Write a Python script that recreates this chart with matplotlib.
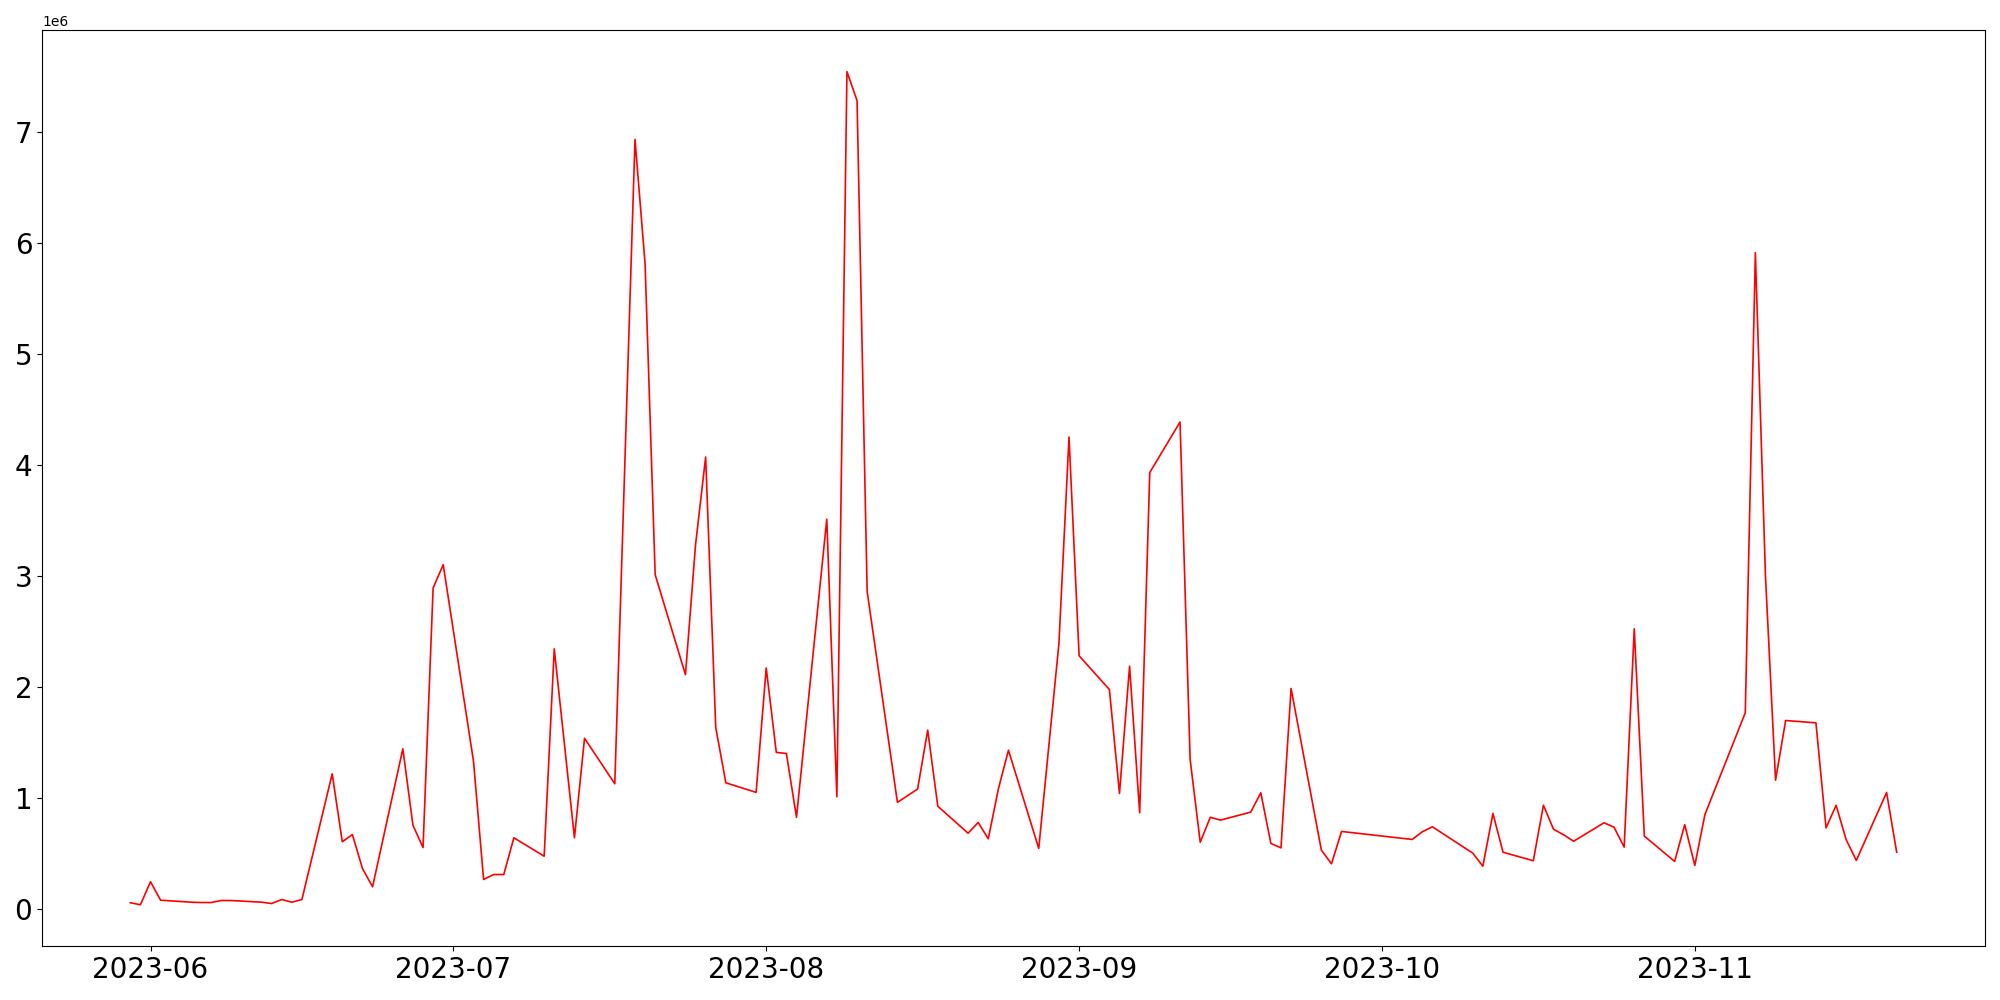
#!/usr/bin/env python3
# daily volume line chart, red line over business days
import numpy as np
import pandas as pd
import matplotlib
matplotlib.use('Agg')
import matplotlib.pyplot as plt

# trading dates (gaps = weekends / missing days)
dates = ['2023-05-30', '2023-05-31', '2023-06-01', '2023-06-02',
         '2023-06-05', '2023-06-06', '2023-06-07', '2023-06-08', '2023-06-09',
         '2023-06-12', '2023-06-13', '2023-06-14', '2023-06-15', '2023-06-16',
         '2023-06-19', '2023-06-20', '2023-06-21', '2023-06-22', '2023-06-23',
         '2023-06-26', '2023-06-27', '2023-06-28', '2023-06-29', '2023-06-30',
         '2023-07-03', '2023-07-04', '2023-07-05', '2023-07-06', '2023-07-07',
         '2023-07-10', '2023-07-11', '2023-07-13', '2023-07-14',
         '2023-07-17', '2023-07-19', '2023-07-20', '2023-07-21',
         '2023-07-24', '2023-07-25', '2023-07-26', '2023-07-27', '2023-07-28',
         '2023-07-31', '2023-08-01', '2023-08-02', '2023-08-03', '2023-08-04',
         '2023-08-07', '2023-08-08', '2023-08-09', '2023-08-10', '2023-08-11',
         '2023-08-14', '2023-08-16', '2023-08-17', '2023-08-18',
         '2023-08-21', '2023-08-22', '2023-08-23', '2023-08-24', '2023-08-25',
         '2023-08-28', '2023-08-30', '2023-08-31', '2023-09-01',
         '2023-09-04', '2023-09-05', '2023-09-06', '2023-09-07', '2023-09-08',
         '2023-09-11', '2023-09-12', '2023-09-13', '2023-09-14', '2023-09-15',
         '2023-09-18', '2023-09-19', '2023-09-20', '2023-09-21', '2023-09-22',
         '2023-09-25', '2023-09-26', '2023-09-27',
         '2023-10-04', '2023-10-05', '2023-10-06',
         '2023-10-10', '2023-10-11', '2023-10-12', '2023-10-13',
         '2023-10-16', '2023-10-17', '2023-10-18', '2023-10-19', '2023-10-20',
         '2023-10-23', '2023-10-24', '2023-10-25', '2023-10-26', '2023-10-27',
         '2023-10-30', '2023-10-31', '2023-11-01', '2023-11-02',
         '2023-11-06', '2023-11-07', '2023-11-08', '2023-11-09', '2023-11-10',
         '2023-11-13', '2023-11-14', '2023-11-15', '2023-11-16', '2023-11-17',
         '2023-11-20', '2023-11-21']

# values in millions
volume_m = [0.056, 0.038, 0.245, 0.079,
            0.061, 0.058, 0.058, 0.076, 0.076,
            0.061, 0.049, 0.085, 0.061, 0.085,
            1.217, 0.605, 0.670, 0.364, 0.200,
            1.442, 0.754, 0.553, 2.891, 3.100,
            1.330, 0.266, 0.310, 0.310, 0.641,
            0.475, 2.342, 0.641, 1.537,
            1.127, 6.930, 5.810, 3.010,
            2.110, 3.280, 4.070, 1.635, 1.136,
            1.050, 2.170, 1.410, 1.400, 0.825,
            3.510, 1.010, 7.540, 7.280, 2.860,
            0.960, 1.080, 1.610, 0.925,
            0.682, 0.779, 0.632, 1.080, 1.430,
            0.545, 2.390, 4.250, 2.280,
            1.976, 1.040, 2.186, 0.866, 3.930,
            4.385, 1.346, 0.601, 0.826, 0.800,
            0.872, 1.046, 0.590, 0.550, 1.985,
            0.530, 0.407, 0.698,
            0.626, 0.695, 0.740,
            0.503, 0.385, 0.860, 0.511,
            0.434, 0.934, 0.718, 0.668, 0.610,
            0.776, 0.736, 0.557, 2.523, 0.656,
            0.428, 0.759, 0.392, 0.850,
            1.767, 5.910, 2.998, 1.160, 1.697,
            1.676, 0.730, 0.933, 0.623, 0.437,
            1.049, 0.511]

x = pd.to_datetime(dates)
y = np.array(volume_m) * 1e6

fig, ax = plt.subplots(figsize=(20, 10), dpi=100)
ax.plot(x, y, color='red', linewidth=1.2)
ax.tick_params(axis='both', labelsize=20)
fig.subplots_adjust(left=0.021, right=0.9925, top=0.97, bottom=0.0536)
fig.savefig('out.png')
